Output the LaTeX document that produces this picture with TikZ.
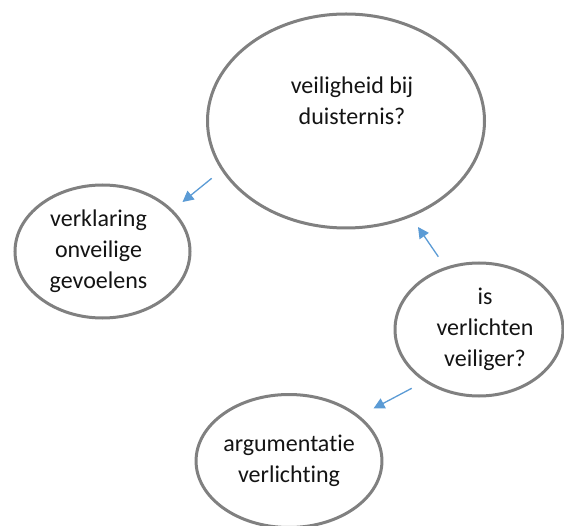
\documentclass[tikz,border=0pt]{standalone}
\usepackage{fontspec}
\setmainfont{Carlito}[Ligatures=NoCommon]
\usepackage{xcolor}
\usetikzlibrary{arrows.meta,shapes.geometric}
\definecolor{rimgray}{HTML}{808080}
\definecolor{arrblue}{HTML}{5B9BD5}
\definecolor{txtdark}{HTML}{141414}
\newcommand{\padL}{\hspace{12pt}}
\newcommand{\padR}{\hspace{8pt}\null}

\begin{document}
\begin{tikzpicture}[x=1pt, y=-1pt,
  font=\fontsize{24}{31}\selectfont,
  bub/.style={ellipse, draw=rimgray, line width=3pt, fill=white, align=center,
              text=txtdark, inner sep=0pt, minimum width=#1},
  bub/.default=175pt,
  arr/.style={-{Triangle[length=11pt, width=11pt]}, arrblue, line width=1.3pt}]
\useasboundingbox (0,0) rectangle (564,526);
\node[bub=277pt, minimum height=214pt] (dark) at (346,121) {\padL veiligheid bij\\\padL duisternis?\\ \strut};
\node[bub=175pt, minimum height=133pt] (feel) at (102.5,251.5) {verklaring\padR\\onveilige\padR\\gevoelens\padR};
\node[bub=168pt, minimum height=133pt] (light) at (479,329.5) {\padL is\\\padL verlichten\\\padL veiliger?};
\node[bub=176pt, minimum height=133pt] (arg) at (289,461) {argumentatie\\verlichting};
% free arrows between the bubbles
\coordinate (d1) at (211.7,178.3);
\coordinate (f1) at (182.5,202);
\coordinate (l1) at (438.3,256.7);
\coordinate (d2) at (418,227);
\coordinate (l2) at (411.7,388.3);
\coordinate (a1) at (373.5,408.5);
\draw[arr] (d1) -- (f1);
\draw[arr] (l1) -- (d2);
\draw[arr] (l2) -- (a1);
\end{tikzpicture}
\end{document}
